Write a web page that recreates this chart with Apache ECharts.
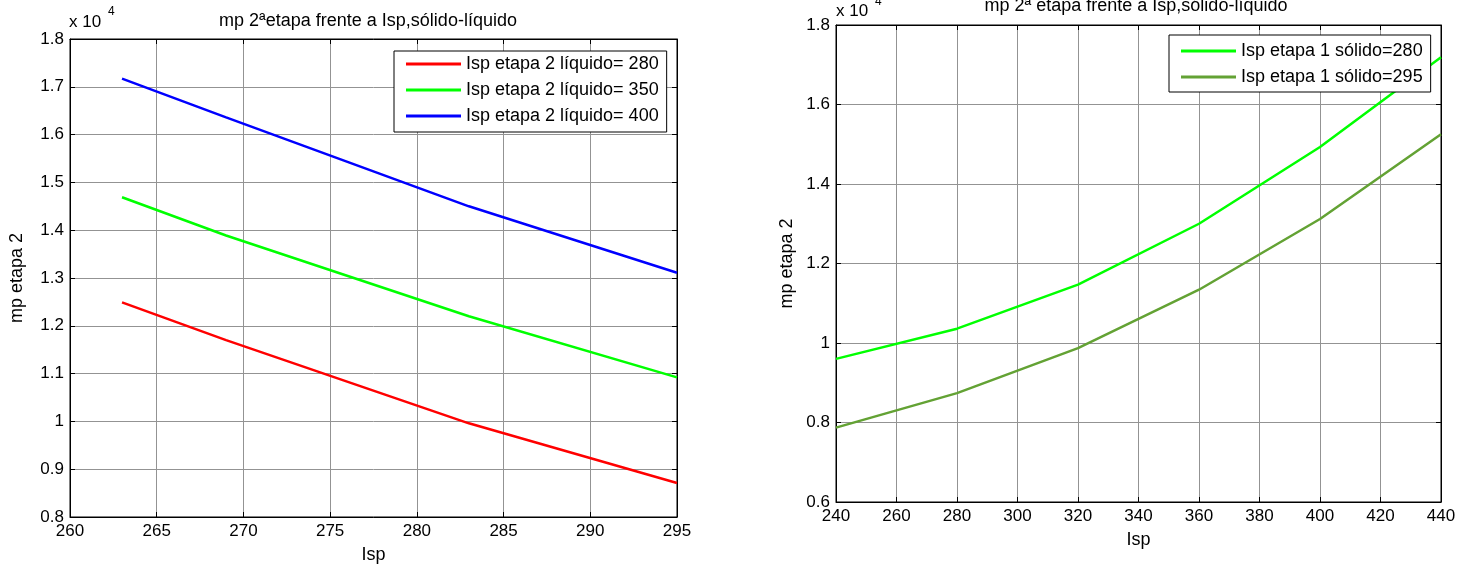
<!DOCTYPE html>
<html>
<head>
<meta charset="utf-8">
<script src="https://cdn.jsdelivr.net/npm/echarts@6/dist/echarts.min.js"></script>
<style>
  html, body { margin: 0; padding: 0; background: #fff; }
  #chart { width: 1468px; height: 572px; }
</style>
</head>
<body>
<div id="chart"></div>
<script>
// Left panel: stage-2 propellant mass vs Isp, one curve per liquid-stage Isp
const leftIsp = [263, 269, 283, 295];
const mpLiquido280 = [12490, 11700, 9960, 8710];
const mpLiquido350 = [14690, 13890, 12200, 10920];
const mpLiquido400 = [17170, 16360, 14500, 13110];
const leftNames = ['Isp etapa 2 líquido= 280', 'Isp etapa 2 líquido= 350', 'Isp etapa 2 líquido= 400'];
const leftXTicks = { min: 260, max: 295, interval: 5 };
const leftYTicks = { min: 8000, max: 18000, interval: 1000 };

// Right panel: stage-2 propellant mass vs Isp, one curve per solid-stage Isp
const rightIsp = [240, 280, 320, 360, 400, 440];
const mpSolido280 = [9600, 10360, 11470, 13000, 14930, 17190];
const mpSolido295 = [7870, 8740, 9870, 11340, 13120, 15250];
const rightNames = ['Isp etapa 1 sólido=280', 'Isp etapa 1 sólido=295'];
const rightXTicks = { min: 240, max: 440, interval: 20 };
const rightYTicks = { min: 6000, max: 18000, interval: 2000 };

const FONT = '"Liberation Sans", Arial, sans-serif';
const pairs = (xs, ys) => xs.map((x, i) => [x, ys[i]]);
const scaled = v => String(parseFloat((v / 1e4).toFixed(1)));

const grids = [
  { left: 70, top: 39, width: 607, height: 478, show: true, borderColor: '#000', borderWidth: 1 },
  { left: 836, top: 25, width: 605, height: 477, show: true, borderColor: '#000', borderWidth: 1 }
];

function xAxes(gridIndex, t) {
  const common = {
    type: 'value', gridIndex, min: t.min, max: t.max, interval: t.interval,
    axisLine: { show: true, lineStyle: { color: '#000', width: 1 } },
    axisTick: { show: true, inside: true, length: 5, lineStyle: { color: '#000' } }
  };
  return [
    Object.assign({}, common, {
      position: 'bottom',
      name: 'Isp', nameLocation: 'middle', nameGap: 29,
      nameTextStyle: { fontFamily: FONT, fontSize: 18, color: '#000' },
      axisLabel: { fontFamily: FONT, fontSize: 17, color: '#000', margin: 6, showMinLabel: true, showMaxLabel: true },
      splitLine: { show: true, lineStyle: { color: '#939393', width: 1 } }
    }),
    Object.assign({}, common, {
      position: 'top', axisLabel: { show: false }, splitLine: { show: false }
    })
  ];
}

function yAxes(gridIndex, t, gap) {
  const common = {
    type: 'value', gridIndex, min: t.min, max: t.max, interval: t.interval,
    axisLine: { show: true, lineStyle: { color: '#000', width: 1 } },
    axisTick: { show: true, inside: true, length: 5, lineStyle: { color: '#000' } }
  };
  return [
    Object.assign({}, common, {
      position: 'left',
      name: 'mp etapa 2', nameLocation: 'middle', nameGap: gap, nameRotate: 90,
      nameTextStyle: { fontFamily: FONT, fontSize: 18, color: '#000' },
      axisLabel: { fontFamily: FONT, fontSize: 17, color: '#000', margin: 6, formatter: scaled, showMinLabel: true, showMaxLabel: true },
      splitLine: { show: true, lineStyle: { color: '#939393', width: 1 } }
    }),
    Object.assign({}, common, {
      position: 'right', axisLabel: { show: false }, splitLine: { show: false }
    })
  ];
}

function lineSeries(name, xIdx, yIdx, xs, ys, color) {
  return {
    name, type: 'line', xAxisIndex: xIdx, yAxisIndex: yIdx,
    data: pairs(xs, ys), showSymbol: false, symbol: 'none',
    lineStyle: { color, width: 2.5 }, itemStyle: { color },
    silent: true, animation: false
  };
}

const legendCommon = {
  orient: 'vertical', icon: 'rect', itemWidth: 55, itemHeight: 3, itemGap: 6,
  backgroundColor: '#fff', borderColor: '#000', borderWidth: 1, borderRadius: 0,
  textStyle: { fontFamily: FONT, fontSize: 18, color: '#000', lineHeight: 20 },
  selectedMode: false, z: 10
};

const option = {
  animation: false,
  backgroundColor: '#fff',
  title: [
    { text: 'mp 2ªetapa frente a Isp,sólido-líquido', left: 368, top: 12, textAlign: 'center', padding: 0,
      textStyle: { fontFamily: FONT, fontSize: 18, fontWeight: 'normal', color: '#000' } },
    { text: 'mp 2ª etapa frente a Isp,sólido-líquido', left: 1136, top: -3, textAlign: 'center', padding: 0,
      textStyle: { fontFamily: FONT, fontSize: 18, fontWeight: 'normal', color: '#000' } }
  ],
  grid: grids,
  xAxis: [...xAxes(0, leftXTicks), ...xAxes(1, rightXTicks)],
  yAxis: [...yAxes(0, leftYTicks, 44), ...yAxes(1, rightYTicks, 40)],
  legend: [
    Object.assign({}, legendCommon, { data: leftNames, left: 394, top: 51, padding: [3, 8, 6, 12] }),
    Object.assign({}, legendCommon, { data: rightNames, left: 1169, top: 35, padding: [6, 8, 5, 12] })
  ],
  graphic: [
    { type: 'text', left: 69, top: 14, style: { text: 'x 10', font: '17px ' + FONT, fill: '#000' } },
    { type: 'text', left: 108, top: 6, style: { text: '4', font: '12px ' + FONT, fill: '#000' } },
    { type: 'text', left: 836, top: 3, style: { text: 'x 10', font: '17px ' + FONT, fill: '#000' } },
    { type: 'text', left: 875, top: -4, style: { text: '4', font: '12px ' + FONT, fill: '#000' } }
  ],
  series: [
    lineSeries(leftNames[0], 0, 0, leftIsp, mpLiquido280, '#ff0000'),
    lineSeries(leftNames[1], 0, 0, leftIsp, mpLiquido350, '#00ff00'),
    lineSeries(leftNames[2], 0, 0, leftIsp, mpLiquido400, '#0000ff'),
    lineSeries(rightNames[0], 2, 2, rightIsp, mpSolido280, '#00ff00'),
    lineSeries(rightNames[1], 2, 2, rightIsp, mpSolido295, '#63a234')
  ]
};

const chart = echarts.init(document.getElementById('chart'), null, { renderer: 'canvas' });
chart.setOption(option);
</script>
</body>
</html>
